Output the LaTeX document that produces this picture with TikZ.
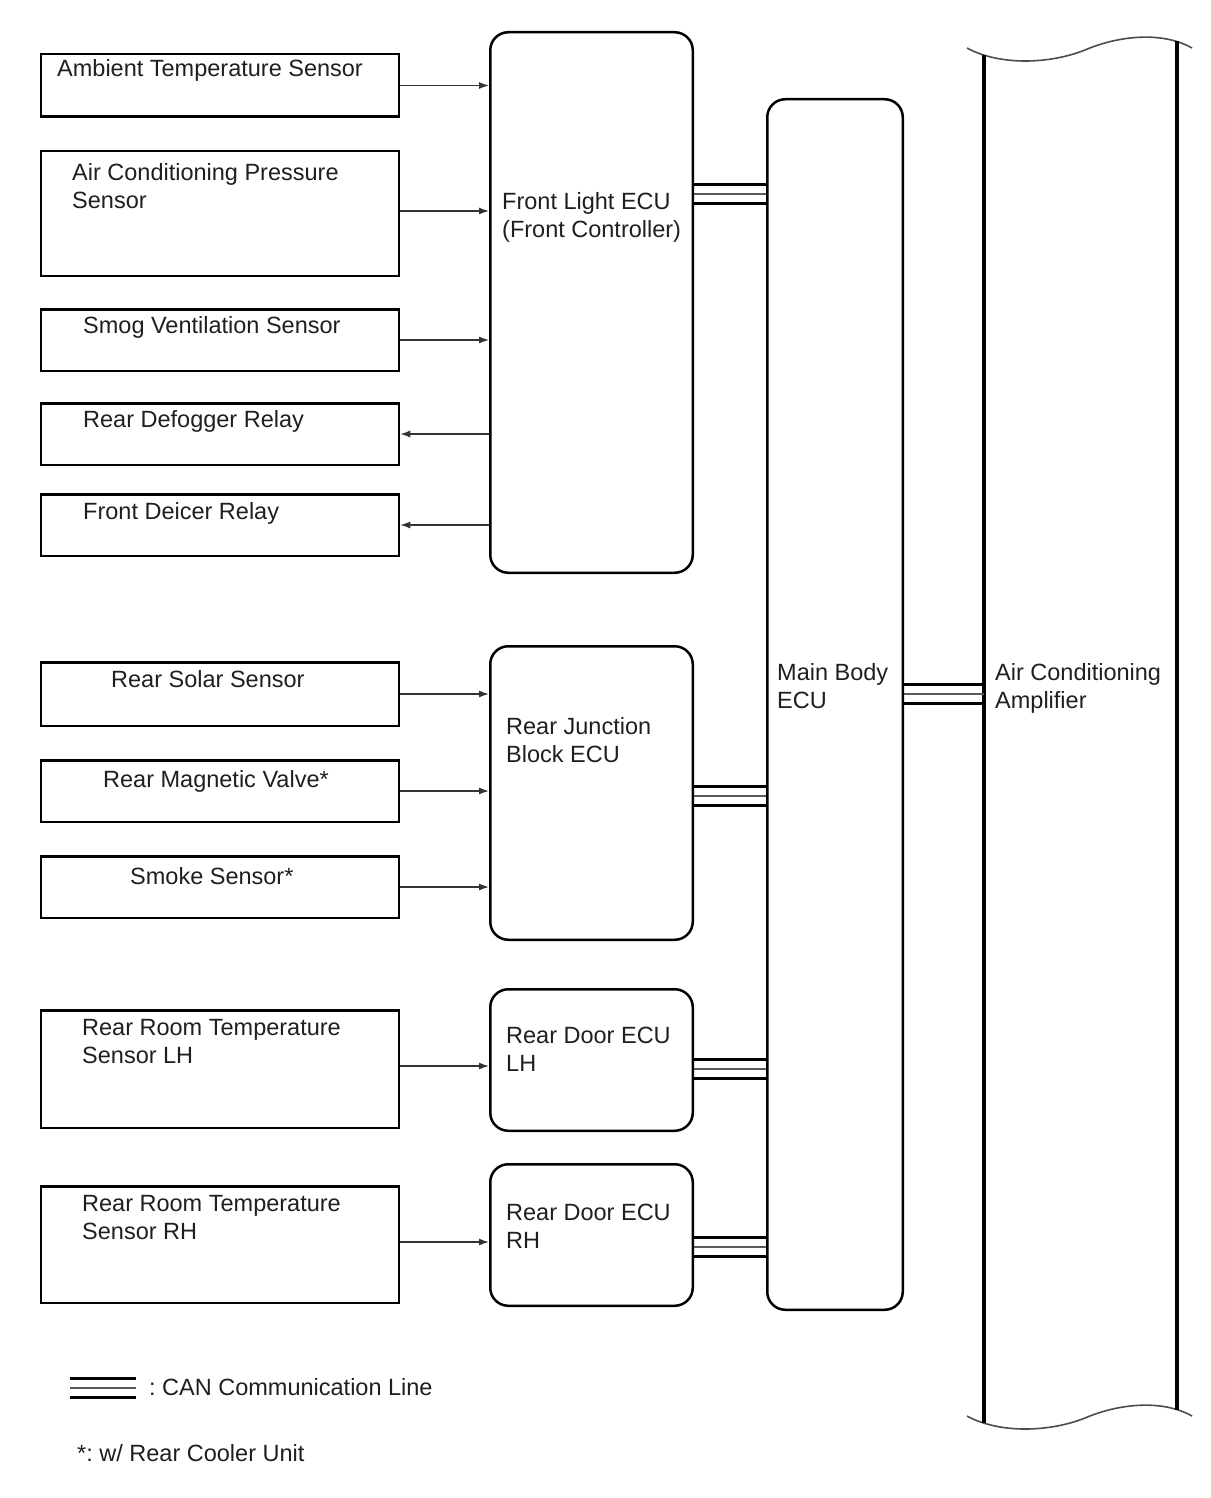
\documentclass[tikz,border=0pt]{standalone}
\usepackage{fontspec}
\setmainfont{Liberation Sans}
\usetikzlibrary{arrows.meta}
\frenchspacing
\newcommand\canbus[3]{%
  \draw[canA] (#1 |- 0,#3-9.5) -- (#2 |- 0,#3-9.5);
  \draw[canB] (#1 |- 0,#3) -- (#2 |- 0,#3);
  \draw[canA] (#1 |- 0,#3+9.5) -- (#2 |- 0,#3+9.5);}
\begin{document}
\begin{tikzpicture}[x=1pt,y=-1pt,
  sensor/.style={draw=black, line width=2.5pt, rectangle, inner sep=0pt, minimum width=358pt},
  ecu/.style={draw=black, line width=2.5pt, rounded corners=18pt, rectangle, inner sep=0pt},
  lbl/.style={anchor=base west, inner sep=0pt, align=left, font=\fontsize{23.5}{28}\selectfont, text=black!88},
  arr/.style={line width=1.3pt, draw=black!80, -{Latex[length=10pt,width=7pt]}},
  canA/.style={line width=2.6pt, black},
  canB/.style={line width=1.6pt, black!65},
  wave/.style={line width=1.6pt, black!70},
  side/.style={line width=3.5pt, black}]

\useasboundingbox (0,0) rectangle (1210,1498);

% sensor boxes
\node[sensor, minimum height=62.5pt]  (amb)   at (220,85.5) {};
\node[sensor, minimum height=124.5pt] (acp)   at (220,213.5) {};
\node[sensor, minimum height=61.5pt]  (smog)  at (220,340) {};
\node[sensor, minimum height=61.5pt]  (defog) at (220,434) {};
\node[sensor, minimum height=61.5pt]  (deice) at (220,525) {};
\node[sensor, minimum height=63.5pt]  (solar) at (220,694) {};
\node[sensor, minimum height=61.5pt]  (magv)  at (220,791) {};
\node[sensor, minimum height=61.5pt]  (smoke) at (220,887) {};
\node[sensor, minimum height=117.5pt] (rtlh)  at (220,1069) {};
\node[sensor, minimum height=116.5pt] (rtrh)  at (220,1244.5) {};

% (two-line labels are placed by the baseline of their last line)
\node[lbl] (ambT)   at (57,77)   {Ambient Temperature Sensor};
\node[lbl] (acpT)   at (72,208)  {Air Conditioning Pressure\\Sensor};
\node[lbl] (smogT)  at (83,333)  {Smog Ventilation Sensor};
\node[lbl] (defogT) at (83,427)  {Rear Defogger Relay};
\node[lbl] (deiceT) at (83,519)  {Front Deicer Relay};
\node[lbl] (solarT) at (111,687) {Rear Solar Sensor};
\node[lbl] (magvT)  at (103,787) {Rear Magnetic Valve*};
\node[lbl] (smokeT) at (130,884) {Smoke Sensor*};
\node[lbl] (rtlhT)  at (82,1063) {Rear Room Temperature\\Sensor LH};
\node[lbl] (rtrhT)  at (82,1239) {Rear Room Temperature\\Sensor RH};

% ECUs
\node[ecu, minimum width=202.5pt, minimum height=540.5pt] (fl)  at (591.5,302.5) {};
\node[ecu, minimum width=202.5pt, minimum height=293.5pt] (rjb) at (591.5,793) {};
\node[ecu, minimum width=202.5pt, minimum height=141.5pt] (rdl) at (591.5,1060) {};
\node[ecu, minimum width=202.5pt, minimum height=141.5pt] (rdr) at (591.5,1235) {};
\node[ecu, minimum width=135.5pt, minimum height=1210.5pt] (mb) at (835,704.5) {};

\node[lbl] (flT)  at (502,237)  {Front Light ECU\\(Front Controller)};
\node[lbl] (rjbT) at (506,762)  {Rear Junction\\Block ECU};
\node[lbl] (rdlT) at (506,1071) {Rear Door ECU\\LH};
\node[lbl] (rdrT) at (506,1248) {Rear Door ECU\\RH};
\node[lbl] (mbT)  at (777,708)  {Main Body\\ECU};

% air conditioning amplifier
\draw[wave] (967,48) .. controls (1000,66) and (1050,64) .. (1085,50)
            .. controls (1115,37) and (1160,30) .. (1192,48);
\draw[wave] (967,1416) .. controls (1000,1434) and (1050,1432) .. (1085,1418)
            .. controls (1115,1405) and (1160,1398) .. (1192,1416);
\draw[side] (984,55) -- (984,1423);
\draw[side] (1177,41.5) -- (1177,1409.5);
\node[lbl] (ampT) at (995,708) {Air Conditioning\\Amplifier};
\coordinate (ampW) at (984,694);

% signal arrows
\draw[arr] (amb.east) -- (amb.east -| fl.west);
\draw[arr] (acp.east |- 0,211) -- (fl.west |- 0,211);
\draw[arr] (smog.east) -- (smog.east -| fl.west);
\draw[arr] (defog.east -| fl.west) -- (defog.east);
\draw[arr] (deice.east -| fl.west) -- (deice.east);
\draw[arr] (solar.east) -- (solar.east -| rjb.west);
\draw[arr] (magv.east) -- (magv.east -| rjb.west);
\draw[arr] (smoke.east) -- (smoke.east -| rjb.west);
\draw[arr] (rtlh.east |- 0,1066) -- (rdl.west |- 0,1066);
\draw[arr] (rtrh.east |- 0,1242) -- (rdr.west |- 0,1242);

% CAN lines
\canbus{fl.east}{mb.west}{194}
\canbus{rjb.east}{mb.west}{796}
\canbus{rdl.east}{mb.west}{1069}
\canbus{rdr.east}{mb.west}{1247}
\canbus{mb.east}{ampW}{694}

% legend
\coordinate (legA) at (70,1388);
\coordinate (legB) at (136,1388);
\canbus{legA}{legB}{1388}
\node[lbl] (legT)  at (149,1395) {: CAN Communication Line};
\node[lbl] (noteT) at (77,1461)  {*: w/ Rear Cooler Unit};
\end{tikzpicture}
\end{document}
